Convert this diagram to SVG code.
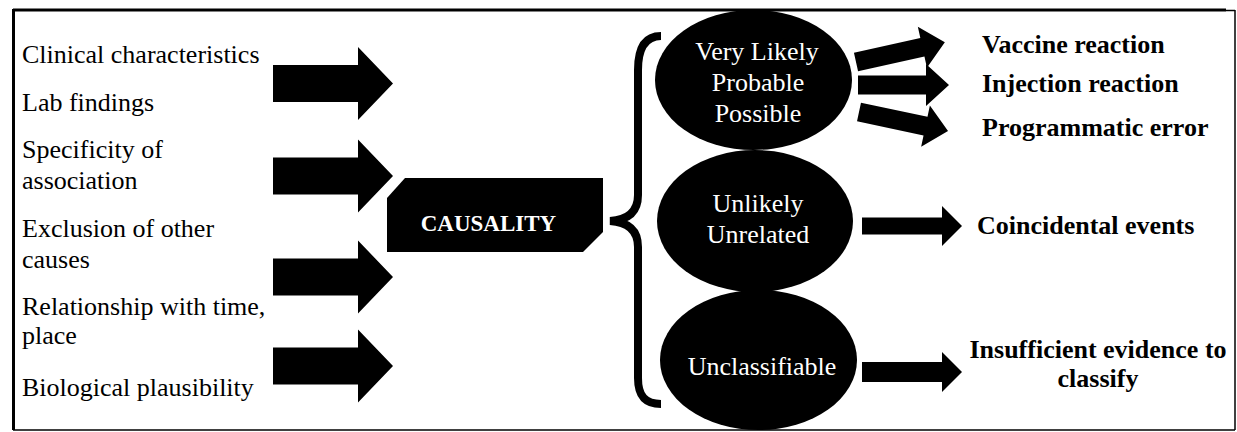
<svg xmlns="http://www.w3.org/2000/svg" width="1237" height="432" viewBox="0 0 1237 432">
  <style>
    text { font-family: "Liberation Serif", Tinos, "Times New Roman", Times, "DejaVu Serif", serif; }
    .lbl { font-size: 26px; fill: #000; }
    .out { font-size: 26px; font-weight: bold; fill: #000; }
    .inner { font-size: 26px; fill: #fff; text-anchor: middle; }
    .blk { fill: #000; }
  </style>
  <defs>
    <!-- block arrow used on the left: shaft 85 long, head 35 long -->
    <path id="bigArrow" d="M0,-18.5 H85 V-36.5 L120,0 L85,36.5 V18.5 H0 Z"/>
    <!-- small block arrow on the right -->
    <path id="smallArrow" d="M0,-9.5 H68 V-21 L91,0 L68,21 V9.5 H0 Z"/>
  </defs>

  <rect width="1237" height="432" fill="#fff"/>

  <!-- frame -->
  <g id="frame" stroke="#000" fill="none">
    <line x1="13" y1="10" x2="1226" y2="10" stroke-width="3"/>
    <line x1="1226" y1="10.5" x2="1235" y2="10.5" stroke-width="1.5"/>
    <line x1="1235" y1="10" x2="1235" y2="430" stroke-width="1.5"/>
    <line x1="13" y1="430" x2="1235" y2="430" stroke-width="1.5"/>
    <line x1="13.5" y1="9" x2="13.5" y2="430" stroke-width="3"/>
  </g>

  <!-- criteria list -->
  <g id="criteria">
    <text class="lbl" x="22" y="63">Clinical characteristics</text>
    <text class="lbl" x="22" y="111">Lab findings</text>
    <text class="lbl" x="22" y="158">Specificity of</text>
    <text class="lbl" x="22" y="189">association</text>
    <text class="lbl" x="22" y="237">Exclusion of other</text>
    <text class="lbl" x="22" y="268">causes</text>
    <text class="lbl" x="22" y="315">Relationship with time,</text>
    <text class="lbl" x="22" y="344">place</text>
    <text class="lbl" x="22" y="396">Biological plausibility</text>
  </g>

  <!-- causality block -->
  <g id="causality">
    <polygon class="blk" points="405,178 603,178 603,232 583,252 387,252 387,198"/>
    <text x="488.5" y="231" text-anchor="middle" font-size="23" font-weight="bold" fill="#fff">CAUSALITY</text>
  </g>

  <!-- outcome categories -->
  <g id="likely">
    <ellipse class="blk" cx="753.5" cy="80" rx="98.5" ry="70"/>
    <text class="inner" x="757" y="60">Very Likely</text>
    <text class="inner" x="758" y="91">Probable</text>
    <text class="inner" x="758" y="122">Possible</text>
  </g>
  <g id="unlikely">
    <ellipse class="blk" cx="755" cy="221" rx="98" ry="71"/>
    <text class="inner" x="758" y="212">Unlikely</text>
    <text class="inner" x="758" y="243">Unrelated</text>
  </g>
  <g id="unclassifiable">
    <ellipse class="blk" cx="758.5" cy="360" rx="98.5" ry="70"/>
    <text class="inner" x="762" y="375">Unclassifiable</text>
  </g>

  <!-- classification results -->
  <g id="results">
    <text class="out" x="982" y="53">Vaccine reaction</text>
    <text class="out" x="982" y="92">Injection reaction</text>
    <text class="out" x="982" y="136">Programmatic error</text>
    <text class="out" x="977" y="234">Coincidental events</text>
    <text class="out" x="1098" y="358" text-anchor="middle">Insufficient evidence to</text>
    <text class="out" x="1098" y="387" text-anchor="middle">classify</text>
  </g>

  <!-- connectors -->
  <g id="connectors" class="blk">
    <use href="#bigArrow" x="273" y="83.5"/>
    <use href="#bigArrow" x="273" y="176"/>
    <use href="#bigArrow" x="273" y="277"/>
    <use href="#bigArrow" x="273" y="366"/>

    <path d="M661,36 C645,36 638,48 638,70 L638,195 C638,212 628,220 610,221 C628,222 638,230 638,247 L638,378 C638,396 645,404 661,404" fill="none" stroke="#000" stroke-width="8"/>

    <use href="#smallArrow" transform="translate(856,62) rotate(-12.5)"/>
    <use href="#smallArrow" transform="translate(858,85)"/>
    <use href="#smallArrow" transform="translate(859,112) rotate(12)"/>

    <path d="M862,217.5 H942 V206 L962,226 L942,246 V234.5 H862 Z"/>
    <path d="M862,362 H942 V352 L962,372 L942,392 V382 H862 Z"/>
  </g>
</svg>
